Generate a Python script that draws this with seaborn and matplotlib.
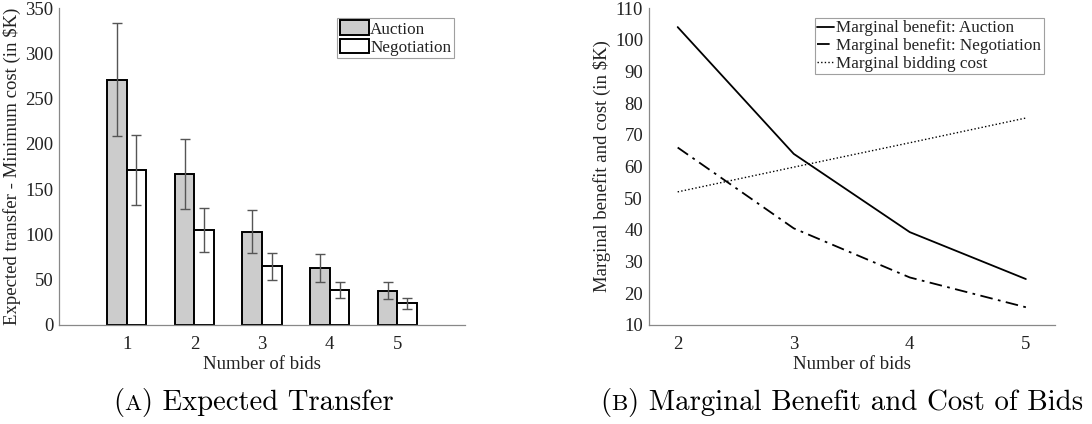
import matplotlib
matplotlib.use("Agg")
import matplotlib.pyplot as plt
import seaborn as sns
import pandas as pd

# ---- data ----
bids_a = [1, 2, 3, 4, 5]
auction = [271, 167, 103, 63, 38]
auction_err = [62.5, 38.5, 24, 15, 9]
negotiation = [171, 105, 65, 39, 24]
negotiation_err = [39, 24, 15, 9, 6]

bids_b = [2, 3, 4, 5]
mb_auction = [104, 64, 39.3, 24.5]
mb_negotiation = [66, 40.5, 25, 15.6]
mb_cost = [52, 59.8, 67.5, 75.3]

sns.set_theme(style="white")
plt.rcParams['font.family'] = ['Liberation Serif', 'DejaVu Serif']
FS = 13.5
LFS = 12.3

fig = plt.figure(figsize=(10.92, 4.24), dpi=100)
ax1 = fig.add_axes([0.054, 0.2335, 0.372, 0.7475])
ax2 = fig.add_axes([0.594, 0.2335, 0.372, 0.7475])

spine_col = '#888888'
txt_col = '#222222'

# ---- panel A ----
df = pd.DataFrame({
    'bids': [str(b) for b in bids_a] * 2,
    'value': auction + negotiation,
    'err': auction_err + negotiation_err,
    'series': ['Auction'] * 5 + ['Negotiation'] * 5,
})
sns.barplot(data=df, x='bids', y='value', hue='series',
            palette=['#cccccc', 'white'], edgecolor='black', linewidth=1.4,
            width=0.58, gap=0, errorbar=None, ax=ax1, saturation=1)
# patches are ordered by hue then category, matching df rows
cent = [p.get_x() + p.get_width() / 2 for p in ax1.patches[:10]]
ax1.errorbar(cent, df['value'], yerr=df['err'], fmt='none', ecolor='#555555',
             elinewidth=1.0, capsize=3.5, capthick=1.0, zorder=5)
ax1.set_xlim(-1, 5)
ax1.set_ylim(0, 350)
ax1.set_yticks(range(0, 351, 50))
ax1.set_xlabel('Number of bids', fontsize=FS, color=txt_col, labelpad=2)
ax1.set_ylabel(r'Expected transfer - Minimum cost (in \$K)', fontsize=FS, color=txt_col, labelpad=3)
leg1 = ax1.legend(loc='upper right', bbox_to_anchor=(0.985, 0.985), frameon=True,
                  fancybox=False, edgecolor='#888888', fontsize=LFS,
                  handlelength=1.7, handleheight=0.95, handletextpad=0.1,
                  borderpad=0.15, labelspacing=0.05, borderaxespad=0.3)
leg1.get_frame().set_linewidth(0.8)
for t in leg1.get_texts():
    t.set_color(txt_col)
ax1.tick_params(axis='both', length=0, labelsize=FS, colors=txt_col)
ax1.tick_params(axis='x', pad=8)
ax1.tick_params(axis='y', pad=4)

# ---- panel B ----
sns.lineplot(x=bids_b, y=mb_auction, ax=ax2, color='black', linewidth=1.3,
             label='Marginal benefit: Auction')
sns.lineplot(x=bids_b, y=mb_negotiation, ax=ax2, color='black', linewidth=1.3,
             label='Marginal benefit: Negotiation')
sns.lineplot(x=bids_b, y=mb_cost, ax=ax2, color='black', linewidth=1.0,
             label='Marginal bidding cost')
lines = ax2.get_lines()
lines[1].set_dashes([7, 3, 1.5, 3])
lines[2].set_dashes([1, 1.6])
ax2.set_xlim(1.75, 5.25)
ax2.set_ylim(10, 110)
ax2.set_xticks(bids_b)
ax2.set_yticks(range(10, 111, 10))
ax2.set_xlabel('Number of bids', fontsize=FS, color=txt_col, labelpad=2)
ax2.set_ylabel(r'Marginal benefit and cost (in \$K)', fontsize=FS, color=txt_col, labelpad=3)
leg2 = ax2.legend(loc='upper right', bbox_to_anchor=(0.985, 0.985), frameon=True,
                  fancybox=False, edgecolor='#888888', fontsize=LFS,
                  handlelength=1.0, handletextpad=0.1,
                  borderpad=0.15, labelspacing=0.1, borderaxespad=0.3)
leg2.get_frame().set_linewidth(0.8)
for t in leg2.get_texts():
    t.set_color(txt_col)
ax2.tick_params(axis='both', direction='in', length=4, width=0.8, color=spine_col,
                labelsize=FS, labelcolor=txt_col)
ax2.tick_params(axis='x', pad=8)
ax2.tick_params(axis='y', pad=4)

for ax in (ax1, ax2):
    sns.despine(ax=ax)
    for s in ('left', 'bottom'):
        ax.spines[s].set_color(spine_col)
        ax.spines[s].set_linewidth(0.9)


# ---- captions with small-caps letters ----
def caption(pieces, xc, yb, size):
    """pieces: list of (text, relative size); baseline at fig y=yb, centered at xc."""
    renderer = fig.canvas.get_renderer()
    texts = []
    for s, rel in pieces:
        t = fig.text(0, yb, s, family='cmr10', fontsize=size * rel,
                     ha='left', va='baseline', color='black')
        texts.append(t)
    widths = [t.get_window_extent(renderer).width for t in texts]
    total = sum(widths)
    W = fig.bbox.width
    x = xc * W - total / 2
    for t, w in zip(texts, widths):
        t.set_x(x / W)
        x += w


caption([('(', 1.0), ('A', 0.8), (') Expected Transfer', 1.0)], 0.232, 0.032, 20.6)
caption([('(', 1.0), ('B', 0.8), (') Marginal Benefit and Cost of Bids', 1.0)],
        0.771, 0.032, 20.8)

fig.savefig('out.png', dpi=100)
